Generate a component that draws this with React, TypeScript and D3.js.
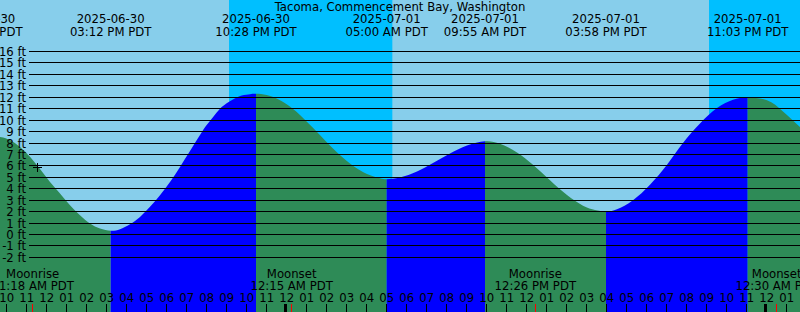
import React from "react";
import * as d3 from "d3";

// ---- data ----
const title = "Tacoma, Commencement Bay, Washington";

// sampled water level along the curve (local time, feet)
const sampleTimes = [
  "2025-06-30T08:44", "2025-06-30T09:40", "2025-06-30T10:10", "2025-06-30T10:40", "2025-06-30T11:10",
  "2025-06-30T11:40", "2025-06-30T12:10", "2025-06-30T12:40", "2025-06-30T13:10", "2025-06-30T13:40",
  "2025-06-30T14:10", "2025-06-30T14:40", "2025-06-30T15:12", "2025-06-30T15:40", "2025-06-30T16:10",
  "2025-06-30T16:40", "2025-06-30T17:10", "2025-06-30T17:40", "2025-06-30T18:10", "2025-06-30T18:40",
  "2025-06-30T19:10", "2025-06-30T19:40", "2025-06-30T20:00", "2025-06-30T20:20", "2025-06-30T20:40",
  "2025-06-30T21:00", "2025-06-30T21:20", "2025-06-30T21:45", "2025-06-30T22:10", "2025-06-30T22:28",
  "2025-06-30T23:00", "2025-06-30T23:30", "2025-07-01T00:00", "2025-07-01T00:40",
  "2025-07-01T01:31", "2025-07-01T02:19", "2025-07-01T03:10", "2025-07-01T04:01", "2025-07-01T04:40",
  "2025-07-01T05:00", "2025-07-01T05:40", "2025-07-01T06:31", "2025-07-01T07:19", "2025-07-01T08:10",
  "2025-07-01T09:01", "2025-07-01T09:55", "2025-07-01T10:40", "2025-07-01T11:31", "2025-07-01T12:19",
  "2025-07-01T13:10", "2025-07-01T14:01", "2025-07-01T14:49", "2025-07-01T15:25", "2025-07-01T15:58",
  "2025-07-01T16:31", "2025-07-01T17:19", "2025-07-01T18:10", "2025-07-01T19:01", "2025-07-01T19:49",
  "2025-07-01T20:40", "2025-07-01T21:31", "2025-07-01T22:19", "2025-07-01T23:03", "2025-07-02T00:01",
  "2025-07-02T00:49", "2025-07-02T01:40", "2025-07-02T02:20",
];
const sampleFeet = [
  8.7, 8.52, 8.24, 7.66, 6.79,
  5.72, 4.6, 3.59, 2.56, 1.69,
  0.96, 0.52, 0.33, 0.46, 0.9,
  1.54, 2.42, 3.44, 4.6, 5.91,
  7.3, 8.7, 9.57, 10.3, 11.0,
  11.48, 11.83, 12.15, 12.27, 12.3,
  12.2, 11.88, 11.38, 10.45,
  8.96, 7.52, 6.2, 5.28, 4.92,
  4.83, 4.98, 5.5, 6.25, 7.08,
  7.78, 8.15, 7.93, 7.18, 6.1,
  4.74, 3.45, 2.52, 2.15, 2.02,
  2.2, 3.0, 4.35, 6.1, 8.0,
  9.7, 11.05, 11.78, 11.98, 11.73,
  10.75, 9.4, 8.4,
];

// high / low tide events
const eventTimes = [
  "2025-06-30T08:44", "2025-06-30T15:12", "2025-06-30T22:28", "2025-07-01T05:00",
  "2025-07-01T09:55", "2025-07-01T15:58", "2025-07-01T23:03",
];
const eventFeet = [8.7, 0.33, 12.3, 4.83, 8.15, 2.02, 11.98];

// night (sunset -> sunrise)
const sunsetTimes = ["2025-06-30T21:07", "2025-07-01T21:07"];
const sunriseTimes = ["2025-07-01T05:17", "2025-07-02T05:17"];

// moon events
const moonTimes = ["2025-06-30T11:18", "2025-07-01T00:15", "2025-07-01T12:26", "2025-07-02T00:30"];
const moonKinds = ["Moonrise", "Moonset", "Moonrise", "Moonset"];

// current-time mark
const markTime = "2025-06-30T11:33";
const markFeet = 5.9;

const footTicks = [16, 15, 14, 13, 12, 11, 10, 9, 8, 7, 6, 5, 4, 3, 2, 1, 0, -1, -2];

// ---- layout ----
const W = 800;
const H = 312;
const FONT = "DejaVu Sans";
const FS = 11.7;
const DAY = "#87CEEB";
const NIGHT = "#00BFFF";
const EBB = "#2E8B57";
const FLOOD = "#0000FF";

const parse = d3.timeParse("%Y-%m-%dT%H:%M");
const fmtDate = d3.timeFormat("%Y-%m-%d");
const fmtTime = d3.timeFormat("%I:%M %p PDT");
const fmtHour = d3.timeFormat("%I");

export default function App() {
  const start = parse("2025-06-30T09:40")!;
  const end = parse("2025-07-02T01:40")!;
  const x = d3.scaleTime().domain([start, end]).range([0, W]);
  const y = d3.scaleLinear().domain([0, 16]).range([234.5, 51.5]);

  const samples = sampleTimes.map((s, i) => ({ t: parse(s)!, ft: sampleFeet[i] }));
  const events = eventTimes.map((s, i) => ({ t: parse(s)!, ft: eventFeet[i] }));

  const area = d3
    .area<{ t: Date; ft: number }>()
    .x((d) => x(d.t))
    .y0(H)
    .y1((d) => y(d.ft))
    .curve(d3.curveNatural);

  // segments between events: rising (blue) or falling (green)
  const segs = events.map((e, i) => {
    const next = events[i + 1];
    const x0 = x(e.t);
    const x1 = next ? x(next.t) : W + 50;
    const rising = next ? next.ft > e.ft : false;
    return { x0, x1, color: rising ? FLOOD : EBB };
  });
  const firstX = x(events[0].t);

  const nights = sunsetTimes.map((s, i) => ({
    x0: x(parse(s)!),
    x1: x(parse(sunriseTimes[i])!),
  }));

  const hours = d3.timeHour.range(start, end);
  const moons = moonTimes.map((s, i) => ({ t: parse(s)!, kind: moonKinds[i] }));
  const mt = parse(markTime)!;
  const mx = x(mt);
  const my = y(markFeet);

  return (
    <svg
      width={W}
      height={H}
      style={{ position: "fixed", left: 0, top: 0, display: "block" }}
      fontFamily={FONT}
      fontSize={FS}
    >
      <defs>
        <clipPath id="tideClip">
          <path d={area(samples) || ""} />
        </clipPath>
      </defs>
      <rect x={0} y={0} width={W} height={H} fill={DAY} />
      {nights.map((n, i) => (
        <rect key={i} x={n.x0} y={0} width={Math.max(0, Math.min(W, n.x1) - n.x0)} height={H} fill={NIGHT} />
      ))}
      <g clipPath="url(#tideClip)">
        <rect x={-60} y={0} width={firstX + 60} height={H} fill={EBB} />
        {segs.map((s, i) => (
          <rect key={i} x={s.x0} y={0} width={s.x1 - s.x0} height={H} fill={s.color} />
        ))}
      </g>
      {footTicks.map((f) => {
        const yy = Math.floor(y(f)) + 0.5;
        return (
          <g key={f}>
            <line x1={29} x2={W} y1={yy} y2={yy} stroke="#000" strokeWidth={1} />
            <text x={26} y={yy + 4} textAnchor="end" fill="#000">
              {f} ft
            </text>
          </g>
        );
      })}
      <text x={W / 2} y={11} textAnchor="middle" fill="#000">
        {title}
      </text>
      {events.map((e, i) => {
        const ex = x(e.t);
        return (
          <g key={i} fill="#000" textAnchor="middle">
            <text x={ex} y={22.5}>
              {fmtDate(e.t)}
            </text>
            <text x={ex} y={35.5}>
              {fmtTime(e.t)}
            </text>
          </g>
        );
      })}
      {moons.map((m, i) => {
        const mx2 = x(m.t);
        return (
          <g key={i} fill="#000" textAnchor="middle">
            <text x={mx2} y={278}>
              {m.kind}
            </text>
            <text x={mx2} y={289.5}>
              {fmtTime(m.t)}
            </text>
          </g>
        );
      })}
      {hours.map((h, i) => {
        const hx = x(h);
        const midnight = h.getHours() === 0;
        return (
          <g key={i}>
            {midnight ? (
              <rect x={Math.floor(hx) - 2} y={304} width={3} height={8} fill="#000" />
            ) : (
              <line x1={Math.floor(hx) + 0.5} x2={Math.floor(hx) + 0.5} y1={304} y2={312} stroke="#000" />
            )}
            <text x={hx} y={301.5} textAnchor="middle" fill="#000">
              {fmtHour(h)}
            </text>
          </g>
        );
      })}
      {moons.map((m, i) => {
        const tx = Math.floor(x(m.t)) + 0.5;
        return <line key={i} x1={tx} x2={tx} y1={304} y2={312} stroke="#FF0000" />;
      })}
      <g stroke="#000" strokeWidth={1}>
        <line x1={Math.floor(mx) - 4} x2={Math.floor(mx) + 5} y1={Math.floor(my) + 0.5} y2={Math.floor(my) + 0.5} />
        <line x1={Math.floor(mx) + 0.5} x2={Math.floor(mx) + 0.5} y1={Math.floor(my) - 4} y2={Math.floor(my) + 5} />
      </g>
    </svg>
  );
}
